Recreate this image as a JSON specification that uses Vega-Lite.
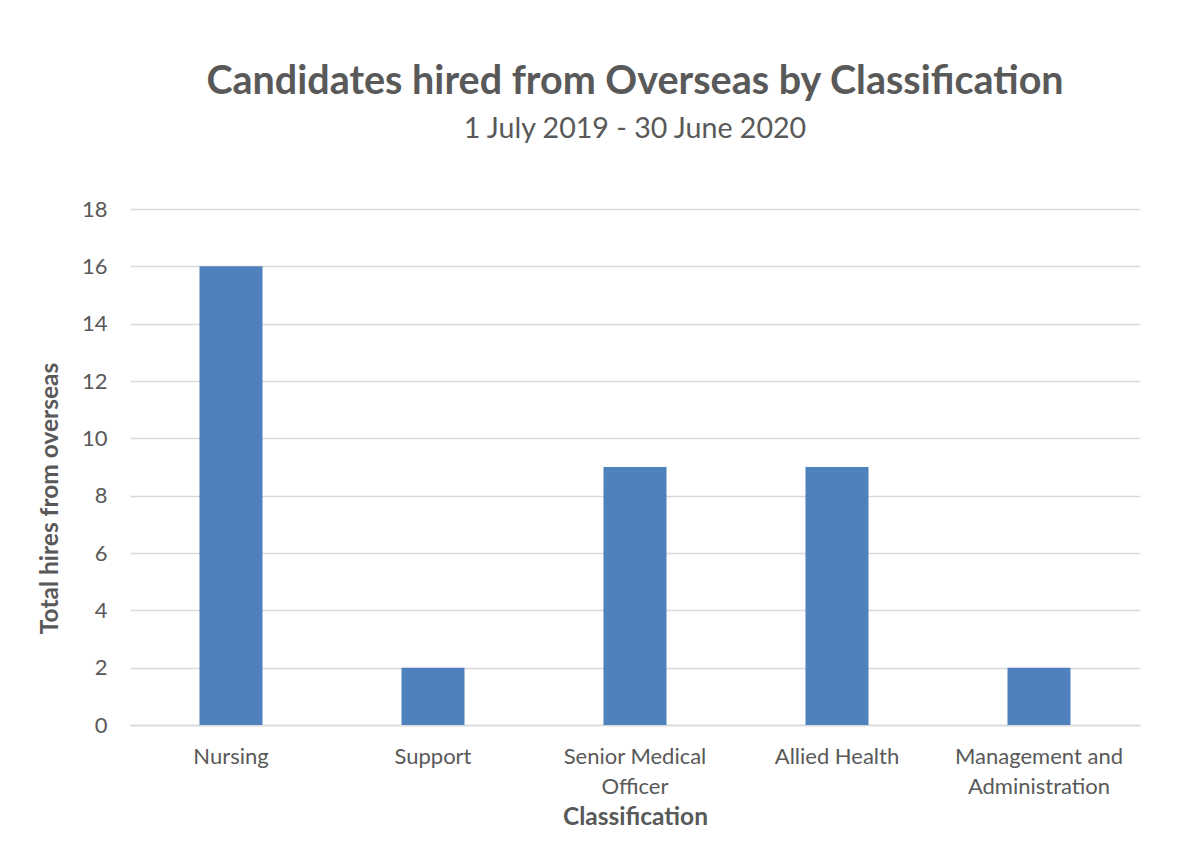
{
  "$schema": "https://vega.github.io/schema/vega-lite/v6.json",
  "autosize": {"type": "none"},
  "padding": {"left": 130, "top": 209, "right": 63, "bottom": 116},
  "width": 1010,
  "height": 516,
  "background": "white",
  "title": {
    "text": "Candidates hired from Overseas by Classification",
    "subtitle": "1 July 2019 - 30 June 2020",
    "anchor": "middle",
    "font": "Lato",
    "fontSize": 39.5,
    "fontWeight": "bold",
    "color": "#595959",
    "subtitleFont": "Lato",
    "subtitleFontSize": 28.6,
    "subtitleColor": "#595959",
    "subtitlePadding": 13,
    "offset": 53
  },
  "data": {
    "values": [
      {"classification": "Nursing", "hires": 16},
      {"classification": "Support", "hires": 2},
      {"classification": "Senior Medical Officer", "hires": 9},
      {"classification": "Allied Health", "hires": 9},
      {"classification": "Management and Administration", "hires": 2}
    ]
  },
  "mark": {"type": "bar", "color": "#4f81bd"},
  "encoding": {
    "x": {
      "field": "classification",
      "type": "nominal",
      "sort": null,
      "scale": {"paddingInner": 0.688, "paddingOuter": 0.344},
      "axis": {
        "title": "Classification",
        "labelAngle": 0,
        "labelExpr": "datum.label == 'Senior Medical Officer' ? ['Senior Medical', 'Officer'] : datum.label == 'Management and Administration' ? ['Management and', 'Administration'] : datum.label",
        "labelFont": "Lato",
        "labelFontSize": 22,
        "labelColor": "#595959",
        "labelLineHeight": 30,
        "labelBaseline": "alphabetic",
        "labelPadding": 38,
        "ticks": false,
        "domainColor": "#d9d9d9",
        "domainWidth": 1.5,
        "titleFont": "Lato",
        "titleFontSize": 24.5,
        "titleFontWeight": "bold",
        "titleColor": "#595959",
        "titleBaseline": "alphabetic",
        "titleY": 99
      }
    },
    "y": {
      "field": "hires",
      "type": "quantitative",
      "scale": {"domain": [0, 18]},
      "axis": {
        "title": "Total hires from overseas",
        "values": [0, 2, 4, 6, 8, 10, 12, 14, 16, 18],
        "labelFont": "Lato",
        "labelFontSize": 22,
        "labelColor": "#595959",
        "labelPadding": 23,
        "ticks": false,
        "domain": false,
        "gridColor": "#d9d9d9",
        "gridWidth": 1.5,
        "titleFont": "Lato",
        "titleFontSize": 24.5,
        "titleFontWeight": "bold",
        "titleColor": "#595959",
        "titleBaseline": "alphabetic",
        "titleX": -73,
        "titleY": 289
      }
    }
  },
  "config": {"view": {"stroke": null}}
}
